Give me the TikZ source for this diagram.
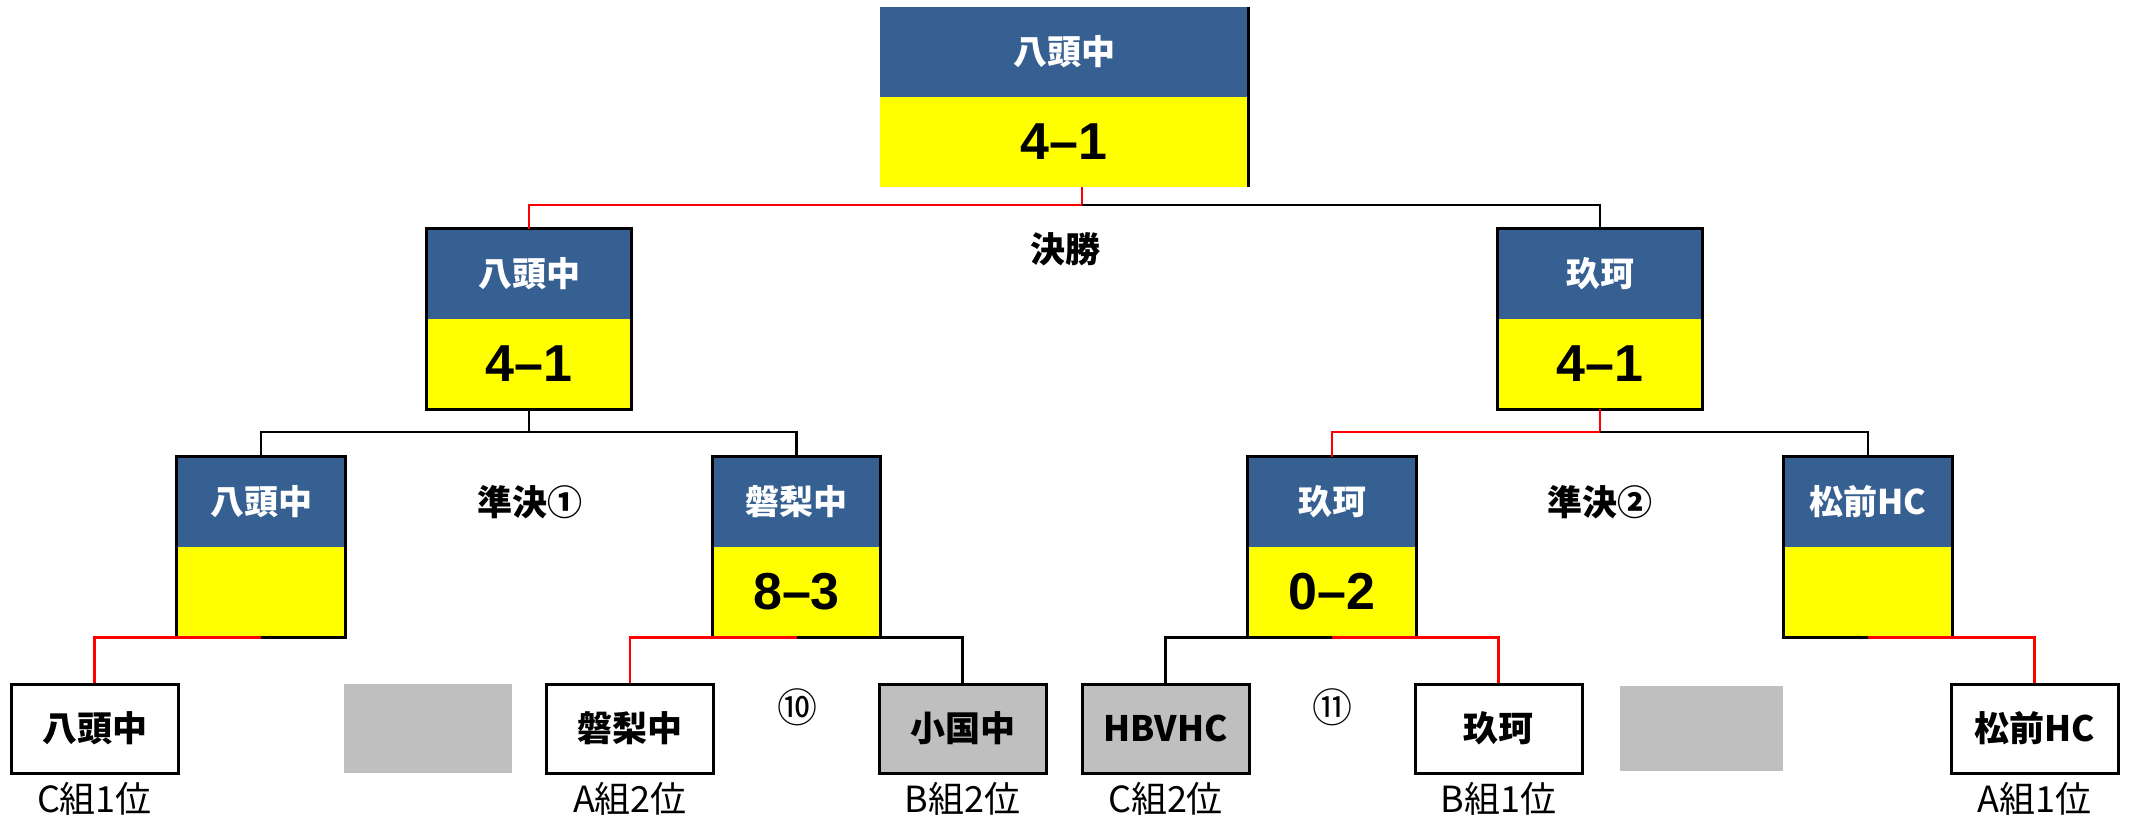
\documentclass[tikz,border=0pt]{standalone}
\usepackage{fontspec}
\setmainfont{Noto Sans CJK JP}
\newfontfamily\scorefont{Liberation Sans}
\definecolor{hdrblue}{RGB}{55,96,146}
\definecolor{ylw}{RGB}{255,255,0}
\definecolor{gry}{RGB}{191,191,191}
\definecolor{redline}{RGB}{255,0,0}
\tikzset{
  hdr/.style={fill=hdrblue, text=white, inner sep=0pt, minimum height=90pt,
    font=\bfseries\fontsize{34}{34}\selectfont},
  scr/.style={fill=ylw, text=black, inner sep=0pt, minimum height=90pt,
    font=\scorefont\bfseries\fontsize{52}{52}\selectfont},
  border/.style={draw=black, line width=3pt},
  teambox/.style={draw=black, line width=3pt, fill=white, inner sep=0pt,
    minimum width=167pt, minimum height=89pt,
    font=\bfseries\fontsize{35}{35}\selectfont},
  greyteam/.style={teambox, fill=gry},
  blank/.style={fill=gry, inner sep=0pt},
  lbl/.style={font=\fontsize{36}{36}\selectfont, inner sep=0pt},
  roundlbl/.style={font=\bfseries\fontsize{35}{35}\selectfont, inner sep=0pt},
  numlbl/.style={font=\fontsize{40}{40}\selectfont, inner sep=0pt},
  bk/.style={draw=black, line width=2.6pt},
  rd/.style={draw=redline, line width=2.6pt},
}
\begin{document}
\begin{tikzpicture}[x=1pt,y=-1pt]
\useasboundingbox (0,0) rectangle (2131,821);

% final box
\node[hdr, minimum width=368pt] (th) at (1064,52) {八頭中};
\node[scr, minimum width=368pt] (ts) at (1064,142) {4–1};
\draw[border] (th.north east) -- (ts.south east);

% semifinal boxes
\node[hdr, minimum width=204pt] (s1h) at (529,274) {八頭中};
\node[scr, minimum width=204pt] (s1s) at (529,364) {4–1};
\draw[border] (s1h.north west) rectangle (s1s.south east);
\node[hdr, minimum width=204pt] (s2h) at (1600,274) {玖珂};
\node[scr, minimum width=204pt] (s2s) at (1600,364) {4–1};
\draw[border] (s2h.north west) rectangle (s2s.south east);

% quarter boxes
\node[hdr, minimum width=168pt] (q1h) at (261,502) {八頭中};
\node[scr, minimum width=168pt] (q1s) at (261,592) {};
\draw[border] (q1h.north west) rectangle (q1s.south east);
\node[hdr, minimum width=168pt] (q2h) at (796.5,502) {磐梨中};
\node[scr, minimum width=168pt] (q2s) at (796.5,592) {8–3};
\draw[border] (q2h.north west) rectangle (q2s.south east);
\node[hdr, minimum width=168pt] (q3h) at (1332,502) {玖珂};
\node[scr, minimum width=168pt] (q3s) at (1332,592) {0–2};
\draw[border] (q3h.north west) rectangle (q3s.south east);
\node[hdr, minimum width=168pt] (q4h) at (1868,502) {松前HC};
\node[scr, minimum width=168pt] (q4s) at (1868,592) {};
\draw[border] (q4h.north west) rectangle (q4s.south east);

% bottom team boxes
\node[teambox] (b1) at (94.5,728.5) {八頭中};
\node[blank, minimum width=168pt, minimum height=89pt] (b2) at (428,728.5) {};
\node[teambox] (b3) at (630,728.5) {磐梨中};
\node[greyteam] (b4) at (962.5,728.5) {小国中};
\node[greyteam] (b5) at (1165.5,728.5) {HBVHC};
\node[teambox] (b6) at (1498.5,728.5) {玖珂};
\node[blank, minimum width=163pt, minimum height=85pt] (b7) at (1701.5,728.5) {};
\node[teambox] (b8) at (2034.5,728.5) {松前HC};

% labels
\node[lbl] (l1) at (94.5,799) {C組1位};
\node[lbl] (l3) at (630,799) {A組2位};
\node[lbl] (l4) at (962.5,799) {B組2位};
\node[lbl] (l5) at (1165.5,799) {C組2位};
\node[lbl] (l6) at (1498.5,799) {B組1位};
\node[lbl] (l8) at (2034.5,799) {A組1位};
\node[roundlbl] (r0) at (1065,249) {決勝};
\node[roundlbl] (r1) at (530,502) {準決①};
\node[roundlbl] (r2) at (1600,502) {準決②};
\node[numlbl] (m10) at (797,707) {⑩};
\node[numlbl] (m11) at (1332,707) {⑪};

% junction coordinates
\coordinate (fj) at (1082,205);
\coordinate (sj1) at (529,432);
\coordinate (sj2) at (1600,432);

% final connectors
\draw[rd] (fj |- ts.south) -- (fj) -- (fj -| s1h.north) -- (s1h.north);
\draw[bk] (fj) -- (fj -| s2h.north) -- (s2h.north);

% semifinal connectors
\draw[bk] (s1s.south) -- (sj1);
\draw[bk] (q1h.north) -- (sj1 -| q1h.north) -- (sj1 -| q2h.north) -- (q2h.north);
\draw[rd] (s2s.south) -- (sj2) -- (sj2 -| q3h.north) -- (q3h.north);
\draw[bk] (sj2) -- (sj2 -| q4h.north) -- (q4h.north);

% quarter connectors
\draw[rd] (q1s.south) -- (q1s.south -| b1.north) -- (b1.north);
\draw[rd] (q2s.south) -- (q2s.south -| b3.north) -- (b3.north);
\draw[bk] (q2s.south) -- (q2s.south -| b4.north) -- (b4.north);
\draw[bk] (q3s.south) -- (q3s.south -| b5.north) -- (b5.north);
\draw[rd] (q3s.south) -- (q3s.south -| b6.north) -- (b6.north);
\draw[rd] (q4s.south) -- (q4s.south -| b8.north) -- (b8.north);
\end{tikzpicture}
\end{document}
